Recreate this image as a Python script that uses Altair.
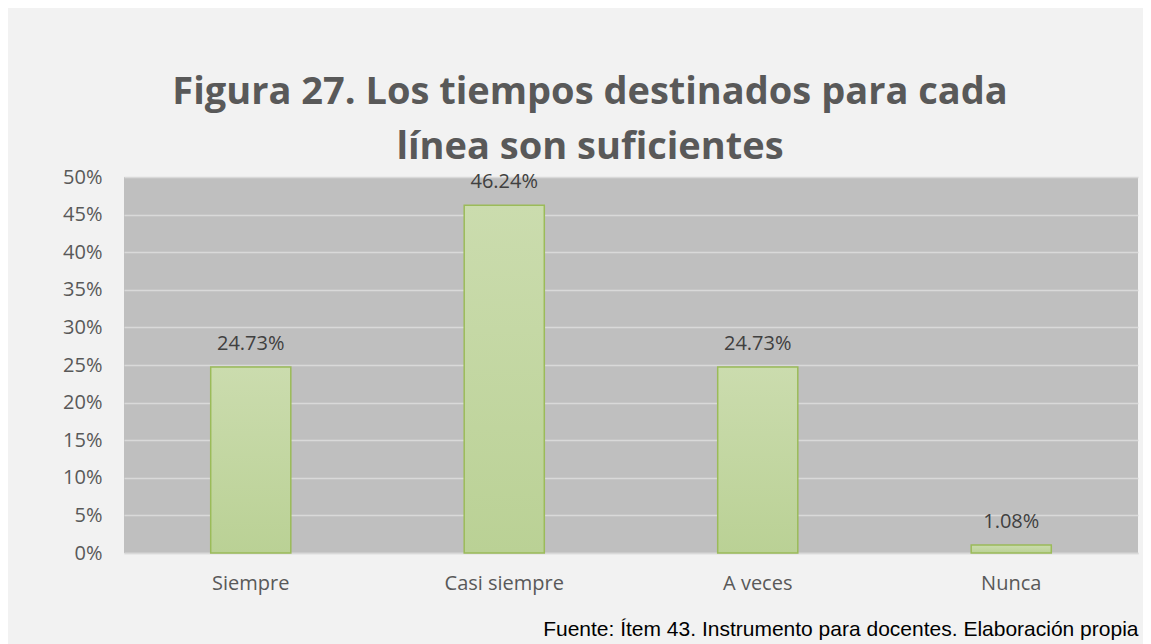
import altair as alt
import pandas as pd

categories = ["Siempre", "Casi siempre", "A veces", "Nunca"]
values = [0.2473, 0.4624, 0.2473, 0.0108]
labels = ["24.73%", "46.24%", "24.73%", "1.08%"]
tick_values = [0.0, 0.05, 0.10, 0.15, 0.20, 0.25, 0.30, 0.35, 0.40, 0.45, 0.50]

df = pd.DataFrame({"cat": categories, "val": values, "lab": labels})

x = alt.X("cat:N", sort=categories,
          scale=alt.Scale(paddingInner=0.684, paddingOuter=0.342),
          axis=alt.Axis(title="Fuente: Ítem 43. Instrumento para docentes. Elaboración propia",
                        titleAnchor="end", titleFont="Liberation Sans", titleFontSize=21,
                        titleFontWeight="normal", titleColor="#000000", titlePadding=25,
                        labelAngle=0, labelFont="Open Sans", labelFontSize=20,
                        labelColor="#595959", labelPadding=20, ticks=False,
                        domain=True, domainColor="#D9D9D9", domainWidth=1.5))
y = alt.Y("val:Q", scale=alt.Scale(domain=[0, 0.5], nice=False),
          axis=alt.Axis(format=".0%", values=tick_values, labelOverlap=False,
                        title=None, labelFont="Open Sans", labelFontSize=20,
                        labelColor="#595959", labelPadding=22, ticks=False, domain=False,
                        gridColor="#D9D9D9", gridWidth=1.5))

bars = alt.Chart(df).mark_bar(
    color=alt.Gradient(gradient="linear", x1=0, y1=0, x2=0, y2=1,
                       stops=[alt.GradientStop(color="#CBDCAE", offset=0),
                              alt.GradientStop(color="#BAD195", offset=1)]),
    stroke="#9BBB59", strokeWidth=1.5
).encode(x=x, y=y)

text = alt.Chart(df).mark_text(
    font="Open Sans", fontSize=20, color="#404040", baseline="alphabetic", dy=-17
).encode(x=x, y=y, text="lab:N")

chart = (bars + text).properties(
    width=1014, height=376,
    background="#F2F2F2",
    padding={"left": 116, "top": 169, "right": 5, "bottom": 91},
    autosize=alt.AutoSizeParams(type="none"),
    title=alt.TitleParams(
        text=["Figura 27. Los tiempos destinados para cada", "línea son suficientes"],
        font="Open Sans", fontSize=38, fontWeight="bold", color="#595959",
        anchor="middle", frame="group", dx=-41, offset=-30, lineHeight=55,
        baseline="alphabetic"),
).configure_view(fill="#BFBFBF", stroke=None)

chart.save("out.html", embed_options={"renderer": "svg", "actions": False})
